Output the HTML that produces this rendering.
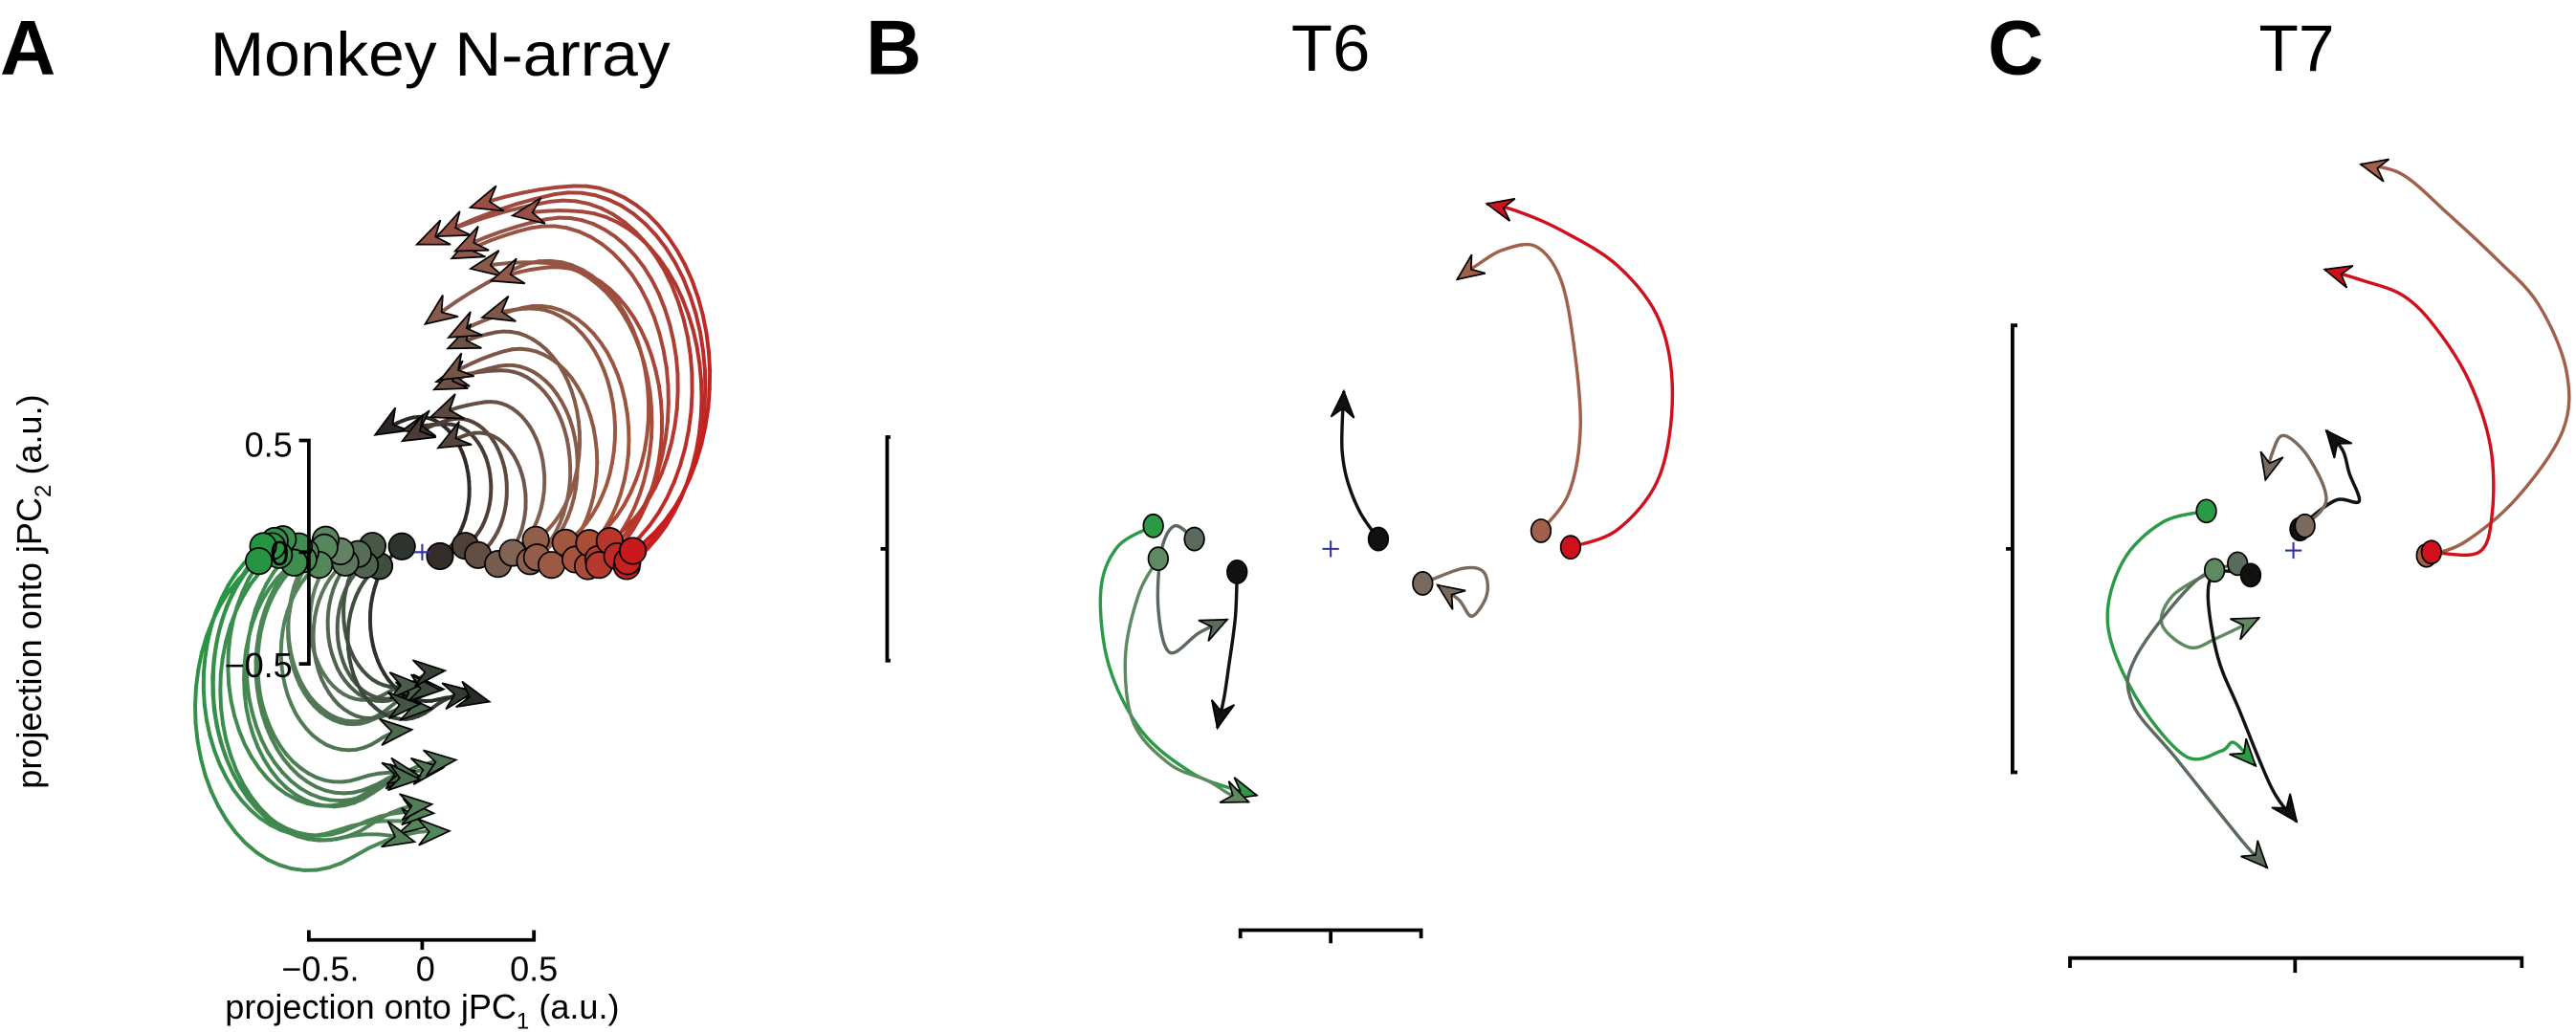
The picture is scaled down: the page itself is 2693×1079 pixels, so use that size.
<!DOCTYPE html>
<html><head><meta charset="utf-8"><style>
html,body{margin:0;padding:0;background:#fff;}
svg{display:block;}
text{font-family:"Liberation Sans",sans-serif;fill:#000;}
</style></head><body>
<svg id="s" width="2693" height="1079" viewBox="0 0 1568 628" preserveAspectRatio="none" xmlns="http://www.w3.org/2000/svg">
<g id="A"></g>
<text x="0" y="45" font-size="47" font-weight="bold">A</text>
<text x="128" y="46" font-size="38" textLength="280" lengthAdjust="spacingAndGlyphs">Monkey N-array</text>
<text x="527" y="45" font-size="47" font-weight="bold">B</text>
<text x="786" y="43" font-size="40" textLength="48" lengthAdjust="spacingAndGlyphs">T6</text>
<text x="1210" y="45" font-size="47" font-weight="bold">C</text>
<text x="1375" y="43" font-size="40" textLength="46" lengthAdjust="spacingAndGlyphs">T7</text>
<g stroke="#000" stroke-width="2.2" fill="none">
<path d="M182,268 H188 V404 H182 M182,336 H188"/>
<path d="M188,566 V572 H325 V566 M257,572 V578"/>
<path d="M542,266 H540 V402 H542 M536,334 H540"/>
<path d="M755,571 V566 H865 V571 M810,566 V574"/>
<path d="M1228,198 H1225 V470 H1228 M1221,334 H1225"/>
<path d="M1260,589 V583 H1535 V589 M1397,583 V592"/>
</g>
<g font-size="21">
<text x="178" y="278" text-anchor="end">0.5</text>
<text x="176" y="344" text-anchor="end">0</text>
<text x="178" y="412" text-anchor="end">−0.5</text>
<text x="195" y="597" text-anchor="middle">−0.5.</text>
<text x="259" y="597" text-anchor="middle">0</text>
<text x="325" y="597" text-anchor="middle">0.5</text>
<text x="257" y="620" text-anchor="middle">projection onto jPC<tspan font-size="14" dy="6">1</tspan><tspan dy="-6"> (a.u.)</tspan></text>
<text transform="translate(25,360) rotate(-90)" text-anchor="middle">projection onto jPC<tspan font-size="14" dy="6">2</tspan><tspan dy="-6"> (a.u.)</tspan></text>
</g>
<g id="B"></g>
<g id="C"></g>
<g stroke="#3030a0" stroke-width="1.2">
<path d="M805,334 H815 M810,329 V339"/>
<path d="M1391,335 H1401 M1396,330 V340"/>
<path d="M252,336 H262 M257,331 V341"/>
</g>
</svg>
<script>
var NS="http://www.w3.org/2000/svg";
function el(p,tag,at){var e=document.createElementNS(NS,tag);for(var k in at)e.setAttribute(k,at[k]);p.appendChild(e);return e;}
function smooth(pts){var d="M"+pts[0][0]+","+pts[0][1];for(var i=0;i<pts.length-1;i++){var p0=pts[i-1]||pts[i],p1=pts[i],p2=pts[i+1],p3=pts[i+2]||p2;
var c1=[p1[0]+(p2[0]-p0[0])/6,p1[1]+(p2[1]-p0[1])/6],c2=[p2[0]-(p3[0]-p1[0])/6,p2[1]-(p3[1]-p1[1])/6];
d+=" C"+c1[0].toFixed(1)+","+c1[1].toFixed(1)+" "+c2[0].toFixed(1)+","+c2[1].toFixed(1)+" "+p2[0].toFixed(1)+","+p2[1].toFixed(1);}return d;}
function arrow(g,from,tip,col,L,W){var dx=tip[0]-from[0],dy=tip[1]-from[1],n=Math.hypot(dx,dy)||1;dx/=n;dy/=n;var px=-dy,py=dx;L=L||15;W=W||6;
var b=[tip[0]-dx*L,tip[1]-dy*L],nt=[tip[0]-dx*L*0.65,tip[1]-dy*L*0.65];
el(g,"polygon",{points:[tip,[b[0]+px*W,b[1]+py*W],nt,[b[0]-px*W,b[1]-py*W]].map(function(p){return p[0].toFixed(1)+","+p[1].toFixed(1)}).join(" "),fill:col,stroke:"#000","stroke-width":1});}
function traj(g,pts,col,tip,sw){el(g,"path",{d:smooth(pts.concat([tip])),fill:"none",stroke:col,"stroke-width":sw||2});}
function rgb(c){return "rgb("+c.map(Math.round).join(",")+")";}
var stops=[[-1,[35,150,65]],[-0.5,[100,130,100]],[0,[30,30,30]],[0.4,[130,100,85]],[0.7,[165,85,60]],[1,[205,20,25]]];
function colAt(t){for(var i=0;i<stops.length-1;i++){if(t<=stops[i+1][0]){var a=stops[i],b=stops[i+1],f=(t-a[0])/(b[0]-a[0]);return a[1].map(function(v,k){return v+(b[1][k]-v)*f;});}}return stops[stops.length-1][1];}
function mix(a,b,f){return a.map(function(v,k){return v+(b[k]-v)*f;});}
// Panel A
var gA=document.getElementById("A"),ox=257,oy=336,N=40,seed=11;
function rnd(){seed=(seed*9301+49297)%233280;return seed/233280;}
var circles=[],arrows=[];
for(var i=0;i<N;i++){var u=-1+2*i/(N-1);var t=Math.sign(u)*Math.pow(Math.abs(u),0.6)+(rnd()-0.5)*0.05;t=Math.max(-1,Math.min(1,t));
var vx=t>=0?133*t+(rnd()-0.5)*6:100*t+(rnd()-0.5)*6;
var S=[ox+vx,oy+(rnd()-0.5)*18];
var m=Math.max(Math.abs(vx),45)*(0.92+rnd()*0.16);
var off,rx,ry;
if(t>=0){off=[-0.26*m,-0.84*m];rx=0.48*m;ry=0.7*m;}else{off=[0.31*m,0.92*m];rx=0.5*m;ry=0.72*m;}
var C=[S[0]+off[0],S[1]+off[1]];
var nx=-off[0]/rx,ny=-off[1]/ry,k=Math.hypot(nx,ny);rx*=k;ry*=k;
var a0=Math.atan2(ny,nx);
var sweep=(t>=0?2.85:3.05)+(rnd()-0.5)*0.4;
var pts=[];for(var s=0;s<=1.0001;s+=1/28){var a=a0-sweep*s;pts.push([C[0]+rx*Math.cos(a),C[1]+ry*Math.sin(a)]);}
var ae=a0-sweep,d=[-Math.sin(ae)*rx,Math.cos(ae)*ry];var dn=Math.hypot(d[0],d[1]);d=[-d[0]/dn,-d[1]/dn];
var L=rx*(0.5+rnd()*0.6),pe=pts[pts.length-1];
for(var j=1;j<=6;j++){var f=j/6;var drop=(t>=0?0.15:0.3)*L*f*f;pts.push([pe[0]+d[0]*L*f,pe[1]+d[1]*L*f+drop]);}
var c0=colAt(t),c1=mix(c0,colAt(t*0.5),0.75);
for(var q=0;q<pts.length-2;q++){el(gA,"line",{x1:pts[q][0].toFixed(1),y1:pts[q][1].toFixed(1),x2:pts[q+1][0].toFixed(1),y2:pts[q+1][1].toFixed(1),stroke:rgb(mix(c0,c1,Math.pow(q/(pts.length-2),1.4))),"stroke-width":2.3,"stroke-linecap":"round"});}
var tip=pts[pts.length-1];circles.push([S,rgb(c0)]);arrows.push([pts[pts.length-3],tip,rgb(c1)]);}
arrows.forEach(function(a){arrow(gA,a[0],a[1],a[2],19,8);});
circles.sort(function(a,b){return Math.abs(a[0][0]-ox)-Math.abs(b[0][0]-ox);});
circles.forEach(function(c){el(gA,"circle",{cx:c[0][0],cy:c[0][1],r:8,fill:c[1],stroke:"#000","stroke-width":1});});
// Panels B & C
function draw(g,list){list.forEach(function(d){traj(g,d.p,d.c,d.t,2);});list.forEach(function(d){var last=d.p[d.p.length-1];arrow(g,last,d.t,d.c,16,7);
el(g,"ellipse",{cx:d.p[0][0],cy:d.p[0][1],rx:6,ry:7,fill:d.c,stroke:"#000","stroke-width":1});});}
var G="#2a9a46",GG="#5e8a62",DG="#5a6a5c",K="#111",BR="#a0604a",BG="#7a6a5e",R="#d0101c";
draw(document.getElementById("B"),[
{c:R,p:[[956,333],[985,322],[1010,290],[1018,240],[1010,195],[985,162],[950,140],[922,128]],t:[905,124]},
{c:BR,p:[[938,323],[955,300],[962,260],[958,210],[950,170],[935,150],[915,152],[898,162]],t:[887,170]},
{c:BG,p:[[866,355],[890,346],[903,348],[905,362],[896,375],[888,365]],t:[875,356]},
{c:K,p:[[839,328],[828,312],[820,292],[817,275],[817,258]],t:[818,238]},
{c:K,p:[[753,348],[752,375],[748,405],[745,425]],t:[741,443]},
{c:DG,p:[[727,328],[715,320],[707,335],[705,370],[712,397],[730,385]],t:[747,377]},
{c:G,p:[[702,320],[680,333],[670,360],[675,405],[695,445],[725,470],[750,480]],t:[765,484]},
{c:GG,p:[[705,340],[693,362],[685,400],[690,440],[712,465],[735,475],[748,483]],t:[760,488]}
]);
draw(document.getElementById("C"),[
{c:BR,p:[[1477,338],[1500,330],[1532,303],[1560,262],[1562,225],[1545,185],[1520,158],[1490,130],[1462,106]],t:[1437,100]},
{c:R,p:[[1480,336],[1509,336],[1517,312],[1516,272],[1503,232],[1483,200],[1463,180],[1436,170]],t:[1415,164]},
{c:K,p:[[1400,322],[1409,313],[1423,304],[1436,305],[1430,288],[1426,274]],t:[1416,262]},
{c:BG,p:[[1403,320],[1416,304],[1405,278],[1390,265],[1383,276]],t:[1379,292]},
{c:G,p:[[1343,311],[1316,318],[1292,342],[1283,380],[1300,424],[1330,460],[1352,457],[1360,452]],t:[1373,466]},
{c:GG,p:[[1348,347],[1323,362],[1316,380],[1333,394],[1350,388]],t:[1375,376]},
{c:DG,p:[[1362,343],[1336,354],[1300,400],[1298,428],[1325,462],[1365,512]],t:[1380,528]},
{c:K,p:[[1370,350],[1350,348],[1344,362],[1350,400],[1363,432],[1383,480]],t:[1398,500]}
]);
</script>
</body></html>
